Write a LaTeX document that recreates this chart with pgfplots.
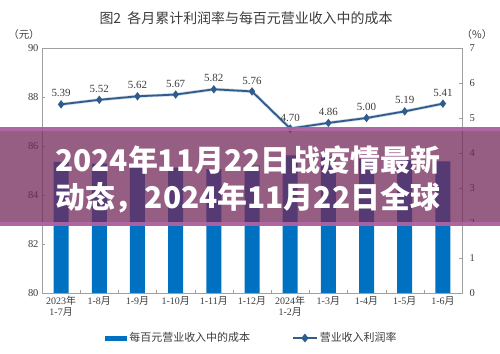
\documentclass[border=0pt]{standalone}
\usepackage{pgfplots}
\pgfplotsset{compat=1.18}
\usepackage{fontspec}
\setmainfont{Liberation Serif}
\newfontfamily\cjk{Noto Sans CJK SC}
\definecolor{barblue}{RGB}{0,112,192}
\definecolor{lineblue}{RGB}{47,92,140}
\definecolor{band}{RGB}{115,40,90}
\definecolor{bandedge}{RGB}{180,105,170}
\definecolor{axgray}{RGB}{160,160,160}
\definecolor{txt}{RGB}{60,60,60}
\begin{document}
\begin{tikzpicture}
\useasboundingbox (0bp,0bp) rectangle (500bp,354bp);
\begin{axis}[at={(42bp,61bp)}, anchor=south west, scale only axis,
  width=420bp, height=245bp,
  xmin=-0.5, xmax=10.5, ymin=80, ymax=90,
  ytick={80,82,...,90},
  ytick pos=left, xtick pos=bottom,
  tick align=inside,
  axis line style={axgray},
  major tick length=3bp, minor tick length=3bp,
  tick style={axgray},
  xtick={0,...,10},
  major x tick style={draw=none},
  minor xtick={0.5,1.5,...,9.5},
  xticklabels={{2023{\cjk 年}\\1-7{\cjk 月}},{1-8{\cjk 月}},{1-9{\cjk 月}},{1-10{\cjk 月}},{1-11{\cjk 月}},{1-12{\cjk 月}},{2024{\cjk 年}\\1-2{\cjk 月}},{1-3{\cjk 月}},{1-4{\cjk 月}},{1-5{\cjk 月}},{1-6{\cjk 月}}},
  xticklabel style={align=center, font=\fontsize{10}{11}\selectfont, text=txt},
  yticklabel style={font=\fontsize{10.5}{12}\selectfont, text=txt},
  /pgf/number format/assume math mode=true,
  legend style={at={(0.5,-0.184)}, anchor=center, draw=none, fill=none,
    legend columns=2, font=\cjk\fontsize{11}{12}\selectfont, text=txt,
    /tikz/every even column/.append style={column sep=40bp}},
  clip=true,
]
\addplot[ybar, bar width=15bp, fill=barblue, draw=none,
  legend image code/.code={\fill[barblue] (0bp,-2.5bp) rectangle (22bp,2.5bp);}]
  coordinates {(0,85.35) (1,85.28) (2,85.17) (3,85.12) (4,85.06) (5,85.21) (6,85.62) (7,85.55) (8,85.48) (9,85.42) (10,85.37)};
\addlegendentry{每百元营业收入中的成本}
\addlegendimage{lineblue, line width=1.8pt, mark=diamond*, mark size=2.8pt,
  legend image code/.code={\draw[lineblue, line width=1.8pt] (0bp,0bp) -- (24bp,0bp); \fill[lineblue] (12bp,0bp) +(0,3bp) -- +(2.5bp,0) -- +(0,-3bp) -- +(-2.5bp,0) -- cycle;}}
\addlegendentry{营业收入利润率}
\end{axis}
\begin{axis}[at={(42bp,61bp)}, anchor=south west, scale only axis,
  width=420bp, height=245bp,
  xmin=-0.5, xmax=10.5, ymin=0, ymax=7,
  ytick={0,...,7},
  axis x line=none, axis y line*=right,
  tick align=inside,
  axis line style={axgray},
  major tick length=3bp,
  tick style={axgray},
  yticklabel style={font=\fontsize{10.5}{12}\selectfont, text=txt, xshift=4bp},
  /pgf/number format/assume math mode=true,
  clip=false,
]
\addplot[white!75!lineblue, line width=3.2pt] coordinates {(0,5.39) (1,5.52) (2,5.62) (3,5.67) (4,5.82) (5,5.76) (6,4.70) (7,4.86) (8,5.00) (9,5.19) (10,5.41)};
\addplot[lineblue, line width=1.8pt, mark=diamond*, mark size=2.8pt,
  nodes near coords, every node near coord/.append style={font=\fontsize{11}{12}\selectfont, text=txt, yshift=3bp, anchor=south},
  /pgf/number format/.cd, fixed, fixed zerofill, precision=2]
  coordinates {(0,5.39) (1,5.52) (2,5.62) (3,5.67) (4,5.82) (5,5.76) (6,4.70) (7,4.86) (8,5.00) (9,5.19) (10,5.41)};
\end{axis}
\node[font=\cjk\fontsize{14}{16}\selectfont, text=txt] at (246bp,336bp) {图2\ \ 各月累计利润率与每百元营业收入中的成本};
\node[font=\cjk\fontsize{10.5}{12}\selectfont, text=txt] at (24bp,319bp) {（元）};
\node[font=\cjk\fontsize{10.5}{12}\selectfont, text=txt] at (477bp,319bp) {（\%）};
\fill[band, opacity=0.75] (0bp,128bp) rectangle (500bp,227bp);
\fill[bandedge, opacity=0.85] (0bp,223bp) rectangle (500bp,227bp);
\fill[bandedge, opacity=0.85] (0bp,128bp) rectangle (500bp,132bp);
\node[anchor=west, text=white, font=\cjk\bfseries\fontsize{30}{34}\selectfont, inner sep=0] at (55bp,194bp) {2024年11月22日战疫情最新};
\node[anchor=west, text=white, font=\cjk\bfseries\fontsize{30}{34}\selectfont, inner sep=0] at (55bp,156bp) {动态，2024年11月22日全球};
\end{tikzpicture}
\end{document}
